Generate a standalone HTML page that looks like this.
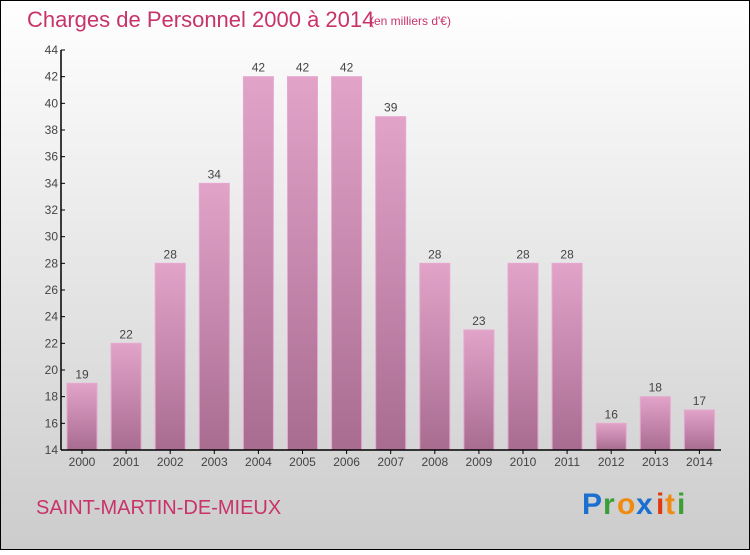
<!DOCTYPE html>
<html><head><meta charset="utf-8"><style>
body{margin:0;width:750px;height:550px;overflow:hidden;font-family:"Liberation Sans",sans-serif}
</style></head><body>
<svg width="750" height="550" xmlns="http://www.w3.org/2000/svg">
<defs>
<linearGradient id="bg" x1="0" y1="0" x2="0" y2="1"><stop offset="0" stop-color="#ffffff"/><stop offset="1" stop-color="#cccccc"/></linearGradient>
<linearGradient id="bar" x1="0" y1="0" x2="0" y2="1"><stop offset="0" stop-color="#e2a3c9"/><stop offset="1" stop-color="#a96c91"/></linearGradient>
</defs>
<rect x="0.5" y="0.5" width="749" height="549" fill="url(#bg)" stroke="#000"/>
<text x="27" y="27" font-size="22" fill="#c8336a">Charges de Personnel 2000 à 2014</text>
<text x="370" y="25" font-size="12" fill="#c8336a">(en milliers d'€)</text>
<g id="yaxis"></g>
<g id="bars"></g>
<g id="xaxis"></g>
<text x="36" y="514" font-size="20" fill="#c8336a">SAINT-MARTIN-DE-MIEUX</text>
<g font-size="30" font-family="'Liberation Sans',sans-serif" font-weight="bold">
<text x="582" y="514" fill="#1a6fd0">P</text><text x="603" y="514" fill="#3aa035">r</text><text x="617" y="514" fill="#f08a10">o</text><text x="636" y="514" fill="#1a6fd0">x</text><text x="656" y="514" fill="#e03a10">i</text><text x="665" y="514" fill="#f08a10">t</text><text x="677" y="514" fill="#3aa035">i</text>
</g>
</svg>
<script>
const years=["2000","2001","2002","2003","2004","2005","2006","2007","2008","2009","2010","2011","2012","2013","2014"];
const values=[19,22,28,34,42,42,42,39,28,23,28,28,16,18,17];
const yTicks=[14,16,18,20,22,24,26,28,30,32,34,36,38,40,42,44];
const NS="http://www.w3.org/2000/svg";
const y0=450,y1=50,vmin=14,vmax=44,x0=61,x1=721;
const yS=v=>y0-(v-vmin)/(vmax-vmin)*(y0-y1);
const step=44.1,xS=i=>82+i*step;
function mk(t,a,p){const e=document.createElementNS(NS,t);for(const k in a)e.setAttribute(k,a[k]);p.appendChild(e);return e;}
const ya=document.getElementById('yaxis');
mk('line',{x1:x0,y1:y1,x2:x0,y2:y0,stroke:'#000','stroke-width':1.5},ya);
yTicks.forEach(v=>{
 const t=mk('text',{x:x0-3,y:yS(v)+4,'font-size':12,fill:'#444','text-anchor':'end'},ya);
 
 
 t.textContent=v;
 mk('line',{x1:x0,y1:yS(v),x2:x0+4,y2:yS(v),stroke:'#000'},ya);
});
const bg=document.getElementById('bars');
values.forEach((v,i)=>{
 const r=mk('rect',{x:xS(i)-15,y:yS(v),width:30,height:y0-yS(v),fill:'url(#bar)',stroke:'#e6a8cf','stroke-width':1},bg);
 
 
 const t=mk('text',{x:xS(i),y:yS(v)-5,'font-size':12,fill:'#444','text-anchor':'middle'},bg);
 
 
 t.textContent=v;
});
const xa=document.getElementById('xaxis');
mk('line',{x1:x0,y1:y0,x2:x1,y2:y0,stroke:'#000','stroke-width':1.5},xa);
years.forEach((y,i)=>{
 mk('line',{x1:xS(i),y1:y0,x2:xS(i),y2:y0+4,stroke:'#000'},xa);
 const t=mk('text',{x:xS(i),y:y0+16,'font-size':12,fill:'#444','text-anchor':'middle'},xa);
 
 
 t.textContent=y;
});
</script>
</body></html>
